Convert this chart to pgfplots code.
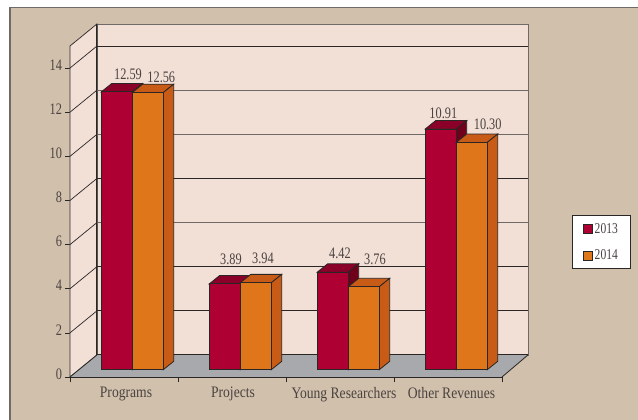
\documentclass[border=0pt]{standalone}
\usepackage{fontspec}
\setmainfont[FakeStretch=0.85]{Liberation Serif}
\newfontfamily\numfont[FakeStretch=0.77]{Liberation Serif}
\usepackage{pgfplots}
\pgfplotsset{compat=1.18}
\definecolor{tan}{HTML}{D1C0AC}
\definecolor{wall}{HTML}{F2DFD6}
\definecolor{floorg}{HTML}{A7A9AC}
\definecolor{redf}{HTML}{AE0033}
\definecolor{redt}{HTML}{8A0029}
\definecolor{reds}{HTML}{6F001C}
\definecolor{oraf}{HTML}{E0761A}
\definecolor{orat}{HTML}{C85C17}
\definecolor{txt}{HTML}{4A4340}
\definecolor{ink}{HTML}{2A2626}
\definecolor{edge}{HTML}{6F6A68}
\begin{document}
\begin{tikzpicture}[x=1pt,y=1pt]
\fill[white] (-70,-43) rectangle (568,377);
\fill[tan] (-60,-43) rectangle (568,369.5);
\draw[edge,line width=1.2pt] (-60,-43) -- (-60,369.5) -- (568,369.5);
\begin{axis}[
  scale only axis, width=432pt, height=331pt,
  xmin=70, xmax=502, ymin=0, ymax=15,
  clip=false,
  axis x line=bottom, axis y line=left,
  axis line style={-,ink,line width=0.9pt},
  xtick={126,233,344,451.5},
  xticklabels={Programs,Projects,Young Researchers,Other Revenues},
  minor xtick={70,178,286,394,502},
  ytick={0,2,4,6,8,10,12,14},
  tick align=outside,
  major x tick style={draw=none},
  minor x tick style={ink,line width=0.7pt},
  minor tick length=5.5pt,
  y tick style={ink,line width=0.7pt},
  major tick length=4.5pt,
  xticklabel style={text=txt,font=\fontsize{16}{18}\selectfont,yshift=-2pt},
  yticklabel style={text=txt,font=\numfont\fontsize{16}{18}\selectfont,xshift=0pt,yshift=3pt},
  /pgf/number format/assume math mode=true,
  legend style={at={(rel axis cs:1.1613,0.488)},anchor=north west,
    draw=ink,fill=white,line width=0.7pt,font=\numfont\fontsize{15}{16}\selectfont,text=txt,
    row sep=11pt,inner xsep=10.5pt,inner ysep=5.5pt,
    /tikz/every even column/.append style={column sep=3.5pt}},
  legend cell align=left,
  legend image code/.code={\draw[#1,yshift=-7.3pt,line width=0.7pt] (0pt,-4.5pt) rectangle (9.5pt,4.5pt);},
]
% walls and floor
\addplot[fill=wall,draw=edge,line width=0.8pt,forget plot] coordinates {(97,1)(528,1)(528,16)(97,16)} --cycle;
\addplot[fill=wall,draw=ink,line width=0.7pt,forget plot] coordinates {(70,0)(97,1)(97,16)(70,15)} --cycle;
\addplot[fill=floorg,draw=none,forget plot] coordinates {(70,0)(502,0)(528,1)(97,1)} --cycle;
\addplot[ink,line width=1pt,forget plot] coordinates {(97,16)(97,1)(528,1)};
\addplot[ink,line width=0.8pt,forget plot] coordinates {(70,0)(97,1)};
\addplot[ink,line width=0.8pt,forget plot] coordinates {(502,0)(528,1)};
% gridlines: back wall
\addplot[ink,line width=0.7pt,forget plot] coordinates {(97,3)(528,3)};
\addplot[ink,line width=0.7pt,forget plot] coordinates {(97,5)(528,5)};
\addplot[edge,line width=0.7pt,forget plot] coordinates {(97,7)(528,7)};
\addplot[ink,line width=0.7pt,forget plot] coordinates {(97,9)(528,9)};
\addplot[edge,line width=0.7pt,forget plot] coordinates {(97,11)(528,11)};
\addplot[edge,line width=0.7pt,forget plot] coordinates {(97,13)(528,13)};
\addplot[ink,line width=0.7pt,forget plot] coordinates {(97,15)(528,15)};
% gridlines: left wall
\addplot[ink,line width=0.7pt,forget plot] coordinates {(70,2)(97,3)};
\addplot[ink,line width=0.7pt,forget plot] coordinates {(70,4)(97,5)};
\addplot[ink,line width=0.7pt,forget plot] coordinates {(70,6)(97,7)};
\addplot[ink,line width=0.7pt,forget plot] coordinates {(70,8)(97,9)};
\addplot[ink,line width=0.7pt,forget plot] coordinates {(70,10)(97,11)};
\addplot[ink,line width=0.7pt,forget plot] coordinates {(70,12)(97,13)};
\addplot[ink,line width=0.7pt,forget plot] coordinates {(70,14)(97,15)};
% bars: 2013
\pgfplotsset{
  r3d/.style={draw=ink,line width=0.8pt,yshift=7.3pt,forget plot},
  frontbar/.style={ybar,bar shift=0pt,bar width=31pt,draw=ink,line width=0.8pt,yshift=7.3pt},
}
\addplot[r3d,fill=redt] coordinates {(101.3,12.59)(132.3,12.59)(142.7,12.97)(111.7,12.97)} --cycle;
\addplot[r3d,fill=reds] coordinates {(132.3,0)(142.7,0.38)(142.7,12.97)(132.3,12.59)} --cycle;
\addplot[r3d,fill=redt] coordinates {(209.3,3.89)(240.3,3.89)(250.7,4.27)(219.7,4.27)} --cycle;
\addplot[r3d,fill=reds] coordinates {(240.3,0)(250.7,0.38)(250.7,4.27)(240.3,3.89)} --cycle;
\addplot[r3d,fill=redt] coordinates {(317.3,4.42)(348.3,4.42)(358.7,4.80)(327.7,4.80)} --cycle;
\addplot[r3d,fill=reds] coordinates {(348.3,0)(358.7,0.38)(358.7,4.80)(348.3,4.42)} --cycle;
\addplot[r3d,fill=redt] coordinates {(425.3,10.91)(456.3,10.91)(466.7,11.29)(435.7,11.29)} --cycle;
\addplot[r3d,fill=reds] coordinates {(456.3,0)(466.7,0.38)(466.7,11.29)(456.3,10.91)} --cycle;
\addplot[frontbar,fill=redf] coordinates {(116.8,12.59)(224.8,3.89)(332.8,4.42)(440.8,10.91)};
\addlegendentry{2013}
% bars: 2014
\addplot[r3d,fill=orat] coordinates {(132.3,12.56)(163.3,12.56)(173.7,12.94)(142.7,12.94)} --cycle;
\addplot[r3d,fill=orat] coordinates {(163.3,0)(173.7,0.38)(173.7,12.94)(163.3,12.56)} --cycle;
\addplot[r3d,fill=orat] coordinates {(240.3,3.94)(271.3,3.94)(281.7,4.32)(250.7,4.32)} --cycle;
\addplot[r3d,fill=orat] coordinates {(271.3,0)(281.7,0.38)(281.7,4.32)(271.3,3.94)} --cycle;
\addplot[r3d,fill=orat] coordinates {(348.3,3.76)(379.3,3.76)(389.7,4.14)(358.7,4.14)} --cycle;
\addplot[r3d,fill=orat] coordinates {(379.3,0)(389.7,0.38)(389.7,4.14)(379.3,3.76)} --cycle;
\addplot[r3d,fill=orat] coordinates {(456.3,10.30)(487.3,10.30)(497.7,10.68)(466.7,10.68)} --cycle;
\addplot[r3d,fill=orat] coordinates {(487.3,0)(497.7,0.38)(497.7,10.68)(487.3,10.30)} --cycle;
\addplot[frontbar,fill=oraf] coordinates {(147.8,12.56)(255.8,3.94)(363.8,3.76)(471.8,10.30)};
\addlegendentry{2014}
% value labels
\begin{scope}[every node/.style={text=txt,font=\numfont\fontsize{16}{18}\selectfont}]
\node at (axis cs:128,13.73) {12.59};
\node at (axis cs:161.3,13.59) {12.56};
\node at (axis cs:231,5.35) {3.89};
\node at (axis cs:263,5.39) {3.94};
\node at (axis cs:340,5.62) {4.42};
\node at (axis cs:375,5.35) {3.76};
\node at (axis cs:443.3,11.96) {10.91};
\node at (axis cs:487.7,11.46) {10.30};
\end{scope}
\end{axis}
\pgfresetboundingbox
\path[use as bounding box] (-70,-43) rectangle (568,377);
\end{tikzpicture}
\end{document}
